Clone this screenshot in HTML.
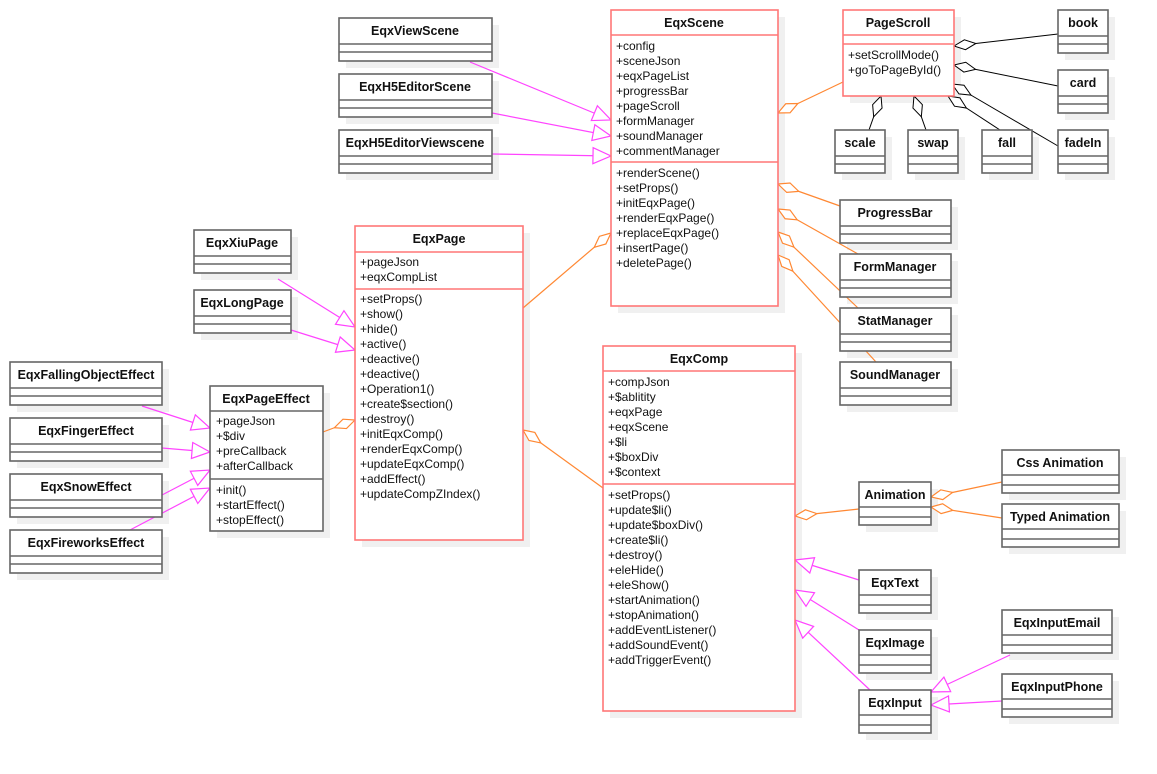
<!DOCTYPE html>
<html><head><meta charset="utf-8"><style>
html,body{margin:0;padding:0;background:#fff;}
svg{display:block;font-family:"Liberation Sans",sans-serif;}
.t{font-weight:bold;font-size:12.5px;text-anchor:middle;fill:#111}
.a{font-size:12px;fill:#111}
.g{fill:#fff;stroke:#666;stroke-width:1.6}
.r{fill:#fff;stroke:#f77;stroke-width:1.6}
.s{fill:#f0f0f0;stroke:none}
.gl{stroke:#666;stroke-width:1.6}
.rl{stroke:#f77;stroke-width:1.6}
.m{stroke:#f4f;stroke-width:1.2;fill:none;marker-end:url(#tri)}
.o{stroke:#f83;stroke-width:1.2;fill:none;marker-start:url(#dia)}
.k{stroke:#000;stroke-width:1;fill:none;marker-start:url(#diak)}
</style></head><body>
<svg width="1157" height="774" viewBox="0 0 1157 774">
<defs>
<marker id="tri" markerUnits="userSpaceOnUse" markerWidth="22" markerHeight="20" refX="19" refY="9" orient="auto"><path d="M1,1 L19,9 L1,17 z" fill="#fff" stroke="#f4f" stroke-width="1.2"/></marker>
<marker id="dia" markerUnits="userSpaceOnUse" markerWidth="26" markerHeight="14" refX="1" refY="7" orient="auto"><path d="M1,7 L12,2 L23,7 L12,12 z" fill="#fff" stroke="#f83" stroke-width="1.2"/></marker>
<marker id="diak" markerUnits="userSpaceOnUse" markerWidth="26" markerHeight="14" refX="1" refY="7" orient="auto"><path d="M1,7 L12,2 L23,7 L12,12 z" fill="#fff" stroke="#000" stroke-width="1"/></marker>
</defs>

<g class="s">
<rect x="346" y="25" width="153" height="43"/><rect x="346" y="81" width="153" height="43"/><rect x="346" y="137" width="153" height="43"/>
<rect x="618" y="17" width="167" height="296"/><rect x="850" y="17" width="111" height="86"/>
<rect x="1065" y="17" width="50" height="43"/><rect x="1065" y="77" width="50" height="43"/><rect x="1065" y="137" width="50" height="43"/>
<rect x="842" y="137" width="50" height="43"/><rect x="915" y="137" width="50" height="43"/><rect x="989" y="137" width="50" height="43"/>
<rect x="847" y="207" width="111" height="43"/><rect x="847" y="261" width="111" height="43"/><rect x="847" y="315" width="111" height="43"/><rect x="847" y="369" width="111" height="43"/>
<rect x="362" y="233" width="168" height="314"/>
<rect x="201" y="237" width="97" height="43"/><rect x="201" y="297" width="97" height="43"/>
<rect x="217" y="393" width="113" height="145"/>
<rect x="17" y="369" width="152" height="43"/><rect x="17" y="425" width="152" height="43"/><rect x="17" y="481" width="152" height="43"/><rect x="17" y="537" width="152" height="43"/>
<rect x="610" y="353" width="192" height="365"/>
<rect x="866" y="489" width="72" height="43"/><rect x="1009" y="457" width="117" height="43"/><rect x="1009" y="511" width="117" height="43"/>
<rect x="866" y="577" width="72" height="43"/><rect x="866" y="637" width="72" height="43"/><rect x="866" y="697" width="72" height="43"/>
<rect x="1009" y="617" width="110" height="43"/><rect x="1009" y="681" width="110" height="43"/>
</g>

<line class="m" x1="470" y1="62" x2="611" y2="120"/>
<line class="m" x1="492" y1="113" x2="611" y2="136"/>
<line class="m" x1="492" y1="154" x2="611" y2="156"/>
<line class="m" x1="278" y1="279" x2="355" y2="327"/>
<line class="m" x1="291" y1="330" x2="355" y2="350"/>
<line class="m" x1="142" y1="406" x2="210" y2="428"/>
<line class="m" x1="162" y1="448" x2="210" y2="452"/>
<line class="m" x1="162" y1="495" x2="210" y2="470"/>
<line class="m" x1="130" y1="530" x2="210" y2="488"/>
<line class="m" x1="859" y1="580" x2="795" y2="560"/>
<line class="m" x1="859" y1="630" x2="795" y2="590"/>
<line class="m" x1="870" y1="690" x2="795" y2="620"/>
<line class="m" x1="1010" y1="655" x2="931" y2="692"/>
<line class="m" x1="1002" y1="701" x2="931" y2="705"/>

<line class="o" x1="778" y1="113" x2="843" y2="82"/>
<line class="o" x1="778" y1="184" x2="840" y2="206"/>
<line class="o" x1="778" y1="209" x2="858" y2="254"/>
<line class="o" x1="778" y1="232" x2="858" y2="308"/>
<line class="o" x1="778" y1="255" x2="876" y2="362"/>
<line class="o" x1="611" y1="233" x2="523" y2="308"/>
<line class="o" x1="355" y1="420" x2="323" y2="432"/>
<line class="o" x1="523" y1="430" x2="603" y2="488"/>
<line class="o" x1="795" y1="516" x2="859" y2="509"/>
<line class="o" x1="931" y1="497" x2="1002" y2="482"/>
<line class="o" x1="931" y1="507" x2="1002" y2="518"/>

<line class="k" x1="954" y1="46" x2="1058" y2="34"/>
<line class="k" x1="954" y1="65" x2="1058" y2="86"/>
<line class="k" x1="952" y1="84" x2="1058" y2="146"/>
<line class="k" x1="881" y1="96" x2="869" y2="130"/>
<line class="k" x1="914" y1="96" x2="926" y2="130"/>
<line class="k" x1="948" y1="96" x2="1000" y2="130"/>

<g>
<rect class="g" x="339" y="18" width="153" height="43"/><line class="gl" x1="339" y1="44" x2="492" y2="44"/><line class="gl" x1="339" y1="52" x2="492" y2="52"/><text class="t" x="415" y="35">EqxViewScene</text>
<rect class="g" x="339" y="74" width="153" height="43"/><line class="gl" x1="339" y1="100" x2="492" y2="100"/><line class="gl" x1="339" y1="108" x2="492" y2="108"/><text class="t" x="415" y="91">EqxH5EditorScene</text>
<rect class="g" x="339" y="130" width="153" height="43"/><line class="gl" x1="339" y1="156" x2="492" y2="156"/><line class="gl" x1="339" y1="164" x2="492" y2="164"/><text class="t" x="415" y="147">EqxH5EditorViewscene</text>

<rect class="g" x="1058" y="10" width="50" height="43"/><line class="gl" x1="1058" y1="36" x2="1108" y2="36"/><line class="gl" x1="1058" y1="44" x2="1108" y2="44"/><text class="t" x="1083" y="27">book</text>
<rect class="g" x="1058" y="70" width="50" height="43"/><line class="gl" x1="1058" y1="96" x2="1108" y2="96"/><line class="gl" x1="1058" y1="104" x2="1108" y2="104"/><text class="t" x="1083" y="87">card</text>
<rect class="g" x="1058" y="130" width="50" height="43"/><line class="gl" x1="1058" y1="156" x2="1108" y2="156"/><line class="gl" x1="1058" y1="164" x2="1108" y2="164"/><text class="t" x="1083" y="147">fadeIn</text>
<rect class="g" x="835" y="130" width="50" height="43"/><line class="gl" x1="835" y1="156" x2="885" y2="156"/><line class="gl" x1="835" y1="164" x2="885" y2="164"/><text class="t" x="860" y="147">scale</text>
<rect class="g" x="908" y="130" width="50" height="43"/><line class="gl" x1="908" y1="156" x2="958" y2="156"/><line class="gl" x1="908" y1="164" x2="958" y2="164"/><text class="t" x="933" y="147">swap</text>
<rect class="g" x="982" y="130" width="50" height="43"/><line class="gl" x1="982" y1="156" x2="1032" y2="156"/><line class="gl" x1="982" y1="164" x2="1032" y2="164"/><text class="t" x="1007" y="147">fall</text>

<rect class="g" x="840" y="200" width="111" height="43"/><line class="gl" x1="840" y1="226" x2="951" y2="226"/><line class="gl" x1="840" y1="234" x2="951" y2="234"/><text class="t" x="895" y="217">ProgressBar</text>
<rect class="g" x="840" y="254" width="111" height="43"/><line class="gl" x1="840" y1="280" x2="951" y2="280"/><line class="gl" x1="840" y1="288" x2="951" y2="288"/><text class="t" x="895" y="271">FormManager</text>
<rect class="g" x="840" y="308" width="111" height="43"/><line class="gl" x1="840" y1="334" x2="951" y2="334"/><line class="gl" x1="840" y1="342" x2="951" y2="342"/><text class="t" x="895" y="325">StatManager</text>
<rect class="g" x="840" y="362" width="111" height="43"/><line class="gl" x1="840" y1="388" x2="951" y2="388"/><line class="gl" x1="840" y1="396" x2="951" y2="396"/><text class="t" x="895" y="379">SoundManager</text>

<rect class="g" x="194" y="230" width="97" height="43"/><line class="gl" x1="194" y1="256" x2="291" y2="256"/><line class="gl" x1="194" y1="264" x2="291" y2="264"/><text class="t" x="242" y="247">EqxXiuPage</text>
<rect class="g" x="194" y="290" width="97" height="43"/><line class="gl" x1="194" y1="316" x2="291" y2="316"/><line class="gl" x1="194" y1="324" x2="291" y2="324"/><text class="t" x="242" y="307">EqxLongPage</text>

<rect class="g" x="10" y="362" width="152" height="43"/><line class="gl" x1="10" y1="388" x2="162" y2="388"/><line class="gl" x1="10" y1="396" x2="162" y2="396"/><text class="t" x="86" y="379">EqxFallingObjectEffect</text>
<rect class="g" x="10" y="418" width="152" height="43"/><line class="gl" x1="10" y1="444" x2="162" y2="444"/><line class="gl" x1="10" y1="452" x2="162" y2="452"/><text class="t" x="86" y="435">EqxFingerEffect</text>
<rect class="g" x="10" y="474" width="152" height="43"/><line class="gl" x1="10" y1="500" x2="162" y2="500"/><line class="gl" x1="10" y1="508" x2="162" y2="508"/><text class="t" x="86" y="491">EqxSnowEffect</text>
<rect class="g" x="10" y="530" width="152" height="43"/><line class="gl" x1="10" y1="556" x2="162" y2="556"/><line class="gl" x1="10" y1="564" x2="162" y2="564"/><text class="t" x="86" y="547">EqxFireworksEffect</text>

<rect class="g" x="859" y="482" width="72" height="43"/><line class="gl" x1="859" y1="507" x2="931" y2="507"/><line class="gl" x1="859" y1="517" x2="931" y2="517"/><text class="t" x="895" y="499">Animation</text>
<rect class="g" x="1002" y="450" width="117" height="43"/><line class="gl" x1="1002" y1="475" x2="1119" y2="475"/><line class="gl" x1="1002" y1="485" x2="1119" y2="485"/><text class="t" x="1060" y="467">Css Animation</text>
<rect class="g" x="1002" y="504" width="117" height="43"/><line class="gl" x1="1002" y1="529" x2="1119" y2="529"/><line class="gl" x1="1002" y1="539" x2="1119" y2="539"/><text class="t" x="1060" y="521">Typed Animation</text>
<rect class="g" x="859" y="570" width="72" height="43"/><line class="gl" x1="859" y1="595" x2="931" y2="595"/><line class="gl" x1="859" y1="605" x2="931" y2="605"/><text class="t" x="895" y="587">EqxText</text>
<rect class="g" x="859" y="630" width="72" height="43"/><line class="gl" x1="859" y1="655" x2="931" y2="655"/><line class="gl" x1="859" y1="665" x2="931" y2="665"/><text class="t" x="895" y="647">EqxImage</text>
<rect class="g" x="859" y="690" width="72" height="43"/><line class="gl" x1="859" y1="715" x2="931" y2="715"/><line class="gl" x1="859" y1="725" x2="931" y2="725"/><text class="t" x="895" y="707">EqxInput</text>
<rect class="g" x="1002" y="610" width="110" height="43"/><line class="gl" x1="1002" y1="635" x2="1112" y2="635"/><line class="gl" x1="1002" y1="645" x2="1112" y2="645"/><text class="t" x="1057" y="627">EqxInputEmail</text>
<rect class="g" x="1002" y="674" width="110" height="43"/><line class="gl" x1="1002" y1="699" x2="1112" y2="699"/><line class="gl" x1="1002" y1="709" x2="1112" y2="709"/><text class="t" x="1057" y="691">EqxInputPhone</text>
</g>

<rect class="r" x="843" y="10" width="111" height="86"/><line class="rl" x1="843" y1="35" x2="954" y2="35"/><line class="rl" x1="843" y1="44" x2="954" y2="44"/>
<text class="t" x="898" y="27">PageScroll</text>
<text class="a"><tspan x="848" y="59">+setScrollMode()</tspan><tspan x="848" y="74">+goToPageById()</tspan></text>

<rect class="g" x="210" y="386" width="113" height="145"/><line class="gl" x1="210" y1="411" x2="323" y2="411"/><line class="gl" x1="210" y1="479" x2="323" y2="479"/>
<text class="t" x="266" y="403">EqxPageEffect</text>
<text class="a"><tspan x="216" y="425">+pageJson</tspan><tspan x="216" y="440">+$div</tspan><tspan x="216" y="455">+preCallback</tspan><tspan x="216" y="470">+afterCallback</tspan><tspan x="216" y="494">+init()</tspan><tspan x="216" y="509">+startEffect()</tspan><tspan x="216" y="524">+stopEffect()</tspan></text>

<rect class="r" x="611" y="10" width="167" height="296"/><line class="rl" x1="611" y1="35" x2="778" y2="35"/><line class="rl" x1="611" y1="162" x2="778" y2="162"/>
<text class="t" x="694" y="27">EqxScene</text>
<text class="a"><tspan x="616" y="50">+config</tspan><tspan x="616" y="65">+sceneJson</tspan><tspan x="616" y="80">+eqxPageList</tspan><tspan x="616" y="95">+progressBar</tspan><tspan x="616" y="110">+pageScroll</tspan><tspan x="616" y="125">+formManager</tspan><tspan x="616" y="140">+soundManager</tspan><tspan x="616" y="155">+commentManager</tspan>
<tspan x="616" y="177">+renderScene()</tspan><tspan x="616" y="192">+setProps()</tspan><tspan x="616" y="207">+initEqxPage()</tspan><tspan x="616" y="222">+renderEqxPage()</tspan><tspan x="616" y="237">+replaceEqxPage()</tspan><tspan x="616" y="252">+insertPage()</tspan><tspan x="616" y="267">+deletePage()</tspan></text>

<rect class="r" x="355" y="226" width="168" height="314"/><line class="rl" x1="355" y1="252" x2="523" y2="252"/><line class="rl" x1="355" y1="289" x2="523" y2="289"/>
<text class="t" x="439" y="243">EqxPage</text>
<text class="a"><tspan x="360" y="266">+pageJson</tspan><tspan x="360" y="281">+eqxCompList</tspan>
<tspan x="360" y="303">+setProps()</tspan><tspan x="360" y="318">+show()</tspan><tspan x="360" y="333">+hide()</tspan><tspan x="360" y="348">+active()</tspan><tspan x="360" y="363">+deactive()</tspan><tspan x="360" y="378">+deactive()</tspan><tspan x="360" y="393">+Operation1()</tspan><tspan x="360" y="408">+create$section()</tspan><tspan x="360" y="423">+destroy()</tspan><tspan x="360" y="438">+initEqxComp()</tspan><tspan x="360" y="453">+renderEqxComp()</tspan><tspan x="360" y="468">+updateEqxComp()</tspan><tspan x="360" y="483">+addEffect()</tspan><tspan x="360" y="498">+updateCompZIndex()</tspan></text>

<rect class="r" x="603" y="346" width="192" height="365"/><line class="rl" x1="603" y1="371" x2="795" y2="371"/><line class="rl" x1="603" y1="484" x2="795" y2="484"/>
<text class="t" x="699" y="363">EqxComp</text>
<text class="a"><tspan x="608" y="386">+compJson</tspan><tspan x="608" y="401">+$ablitity</tspan><tspan x="608" y="416">+eqxPage</tspan><tspan x="608" y="431">+eqxScene</tspan><tspan x="608" y="446">+$li</tspan><tspan x="608" y="461">+$boxDiv</tspan><tspan x="608" y="476">+$context</tspan>
<tspan x="608" y="499">+setProps()</tspan><tspan x="608" y="514">+update$li()</tspan><tspan x="608" y="529">+update$boxDiv()</tspan><tspan x="608" y="544">+create$li()</tspan><tspan x="608" y="559">+destroy()</tspan><tspan x="608" y="574">+eleHide()</tspan><tspan x="608" y="589">+eleShow()</tspan><tspan x="608" y="604">+startAnimation()</tspan><tspan x="608" y="619">+stopAnimation()</tspan><tspan x="608" y="634">+addEventListener()</tspan><tspan x="608" y="649">+addSoundEvent()</tspan><tspan x="608" y="664">+addTriggerEvent()</tspan></text>
</svg>
</body></html>
